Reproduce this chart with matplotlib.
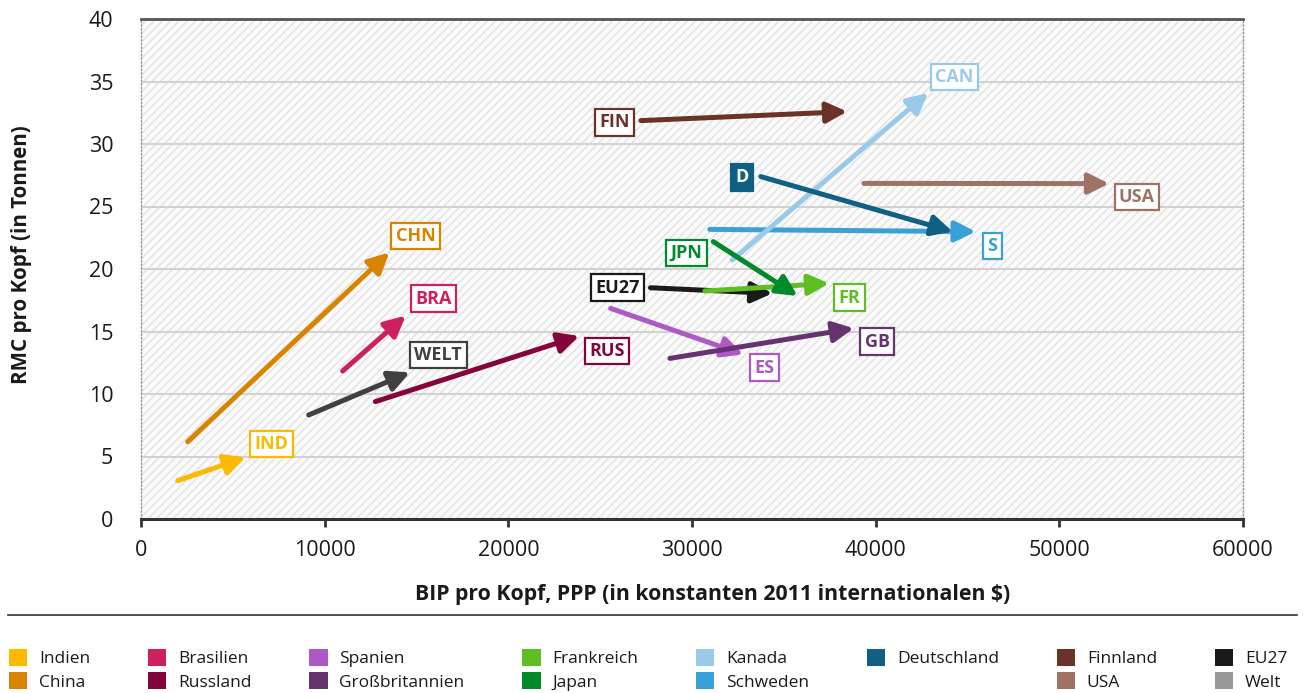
import matplotlib
matplotlib.use('Agg')
import matplotlib.pyplot as plt
from matplotlib.patches import Rectangle, Patch
from matplotlib.lines import Line2D

plt.rcParams['font.family'] = ['Open Sans', 'DejaVu Sans']
plt.rcParams['hatch.linewidth'] = 1.0

# ---------------- data ----------------
codes = ['USA', 'FIN', 'S', 'CAN', 'D', 'EU27', 'FR', 'JPN', 'ES', 'GB',
         'RUS', 'WELT', 'BRA', 'CHN', 'IND']
gdp_start = [39360, 27220, 30970, 32190, 33750, 27740, 30700, 31160, 25570, 28800,
             12760, 9130, 10980, 2540, 2000]
rmc_start = [26.85, 31.87, 23.17, 20.72, 27.39, 18.50, 18.24, 22.19, 16.85, 12.85,
             9.39, 8.32, 11.84, 6.18, 3.07]
gdp_end = [52710, 38450, 45450, 42860, 44190, 34380, 37470, 35750, 32790, 38810,
           23860, 14640, 14410, 13520, 5700]
rmc_end = [26.83, 32.59, 22.99, 34.10, 22.99, 18.05, 18.85, 17.84, 13.17, 15.25,
           14.64, 11.73, 16.27, 21.33, 4.93]
label_gdp = [54220, 25800, 46350, 44290, 32740, 25940, 38580, 29700, 33950, 40080,
             25370, 16190, 15950, 14940, 7110]
label_rmc = [25.76, 31.73, 21.85, 35.37, 27.33, 18.50, 17.70, 21.28, 12.10, 14.18,
             13.44, 13.12, 17.62, 22.64, 6.00]
arrow_colors = ['#9e7265', '#6b3226', '#38a2d6', '#9bc9ea', '#0f6082', '#1a1a1a',
                '#5ebe24', '#008a2a', '#ad5ac6', '#66336e', '#83053c', '#404040',
                '#ce1f5e', '#d98400', '#fbb900']

legend_labels = ['Indien', 'China', 'Brasilien', 'Russland', 'Spanien', 'Großbritannien',
                 'Frankreich', 'Japan', 'Kanada', 'Schweden', 'Deutschland', '',
                 'Finnland', 'USA', 'EU27', 'Welt']
legend_colors = ['#fbb900', '#d98400', '#ce1f5e', '#83053c', '#ad5ac6', '#66336e',
                 '#5ebe24', '#008a2a', '#9bc9ea', '#38a2d6', '#0f6082', 'none',
                 '#6b3226', '#9e7265', '#1a1a1a', '#999999']

x_ticks = [0, 10000, 20000, 30000, 40000, 50000, 60000]
y_ticks = [0, 5, 10, 15, 20, 25, 30, 35, 40]
x_label = 'BIP pro Kopf, PPP (in konstanten 2011 internationalen $)'
y_label = 'RMC pro Kopf (in Tonnen)'

# ---------------- figure ----------------
W, H = 1303, 693
fig = plt.figure(figsize=(W / 100, H / 100), dpi=100)
ax = fig.add_axes([141 / W, 1 - 519 / H, (1243 - 141) / W, (519 - 19) / H])
ax.set_xlim(0, 60000)
ax.set_ylim(0, 40)

# hatched background
ax.add_patch(Rectangle((0, 0), 1, 1, transform=ax.transAxes, facecolor='#fbfbfb',
                       edgecolor='#e2e2e2', hatch='////', lw=0, zorder=0))
ax.set_axisbelow(True)
ax.yaxis.grid(True, color='#d2d2d2', lw=1.5)
ax.xaxis.grid(False)

ax.set_xticks(x_ticks)
ax.set_yticks(y_ticks)
ax.set_xticklabels([str(v) for v in x_ticks])
ax.set_yticklabels([str(v) for v in y_ticks])
ax.tick_params(axis='x', length=6, width=2, color='#333333', pad=9,
               labelsize=15.5, labelcolor='#1a1a1a')
ax.tick_params(axis='y', length=0, pad=20, labelsize=15.5, labelcolor='#1a1a1a')

for side in ['left', 'right']:
    ax.spines[side].set_linestyle(':')
    ax.spines[side].set_color('#9a9a9a')
    ax.spines[side].set_linewidth(1.0)
ax.spines['top'].set_color('#555555')
ax.spines['top'].set_linewidth(2)
ax.spines['bottom'].set_color('#333333')
ax.spines['bottom'].set_linewidth(2.2)

ax.set_xlabel(x_label, fontsize=15.3, fontweight='bold', color='#1a1a1a', va='top')
ax.xaxis.set_label_coords((713 - 141) / 1102, (519 - 584) / 500)
ax.set_ylabel(y_label, fontsize=14.8, fontweight='bold', color='#1a1a1a', va='center')
ax.yaxis.set_label_coords((22 - 141) / 1102, (519 - 255) / 500)

# arrows
for i, code in enumerate(codes):
    ax.annotate('', xy=(gdp_end[i], rmc_end[i]), xytext=(gdp_start[i], rmc_start[i]),
                arrowprops=dict(arrowstyle='-|>,head_length=0.62,head_width=0.31',
                                mutation_scale=20, lw=3.6, color=arrow_colors[i],
                                shrinkA=0, shrinkB=0, capstyle='round'),
                zorder=3 + i * 0.01)

# labels
for i, code in enumerate(codes):
    filled = code == 'D'
    ax.text(label_gdp[i], label_rmc[i], code, fontsize=13, fontweight='bold',
            color='white' if filled else arrow_colors[i], ha='center', va='center',
            zorder=5,
            bbox=dict(boxstyle='square,pad=0.24', facecolor=arrow_colors[i] if filled else 'white',
                      edgecolor=arrow_colors[i], lw=1.6))

# separator line
fig.add_artist(Line2D([8 / W, 1297 / W], [1 - 615 / H, 1 - 615 / H],
                      transform=fig.transFigure, color='#333333', lw=1.2))

# legend
handles = [Patch(facecolor=c, edgecolor='none') for c in legend_colors]
fig.legend(handles, legend_labels, ncol=8, loc='upper left',
           bbox_to_anchor=(9 / W, 1 - 649 / H), frameon=False, fontsize=12.5,
           handlelength=1.05, handleheight=1.1, handletextpad=0.68,
           columnspacing=3.33, labelspacing=0.3, borderpad=0, borderaxespad=0,
           labelcolor='#1a1a1a')

fig.savefig('out.png', dpi=100)
